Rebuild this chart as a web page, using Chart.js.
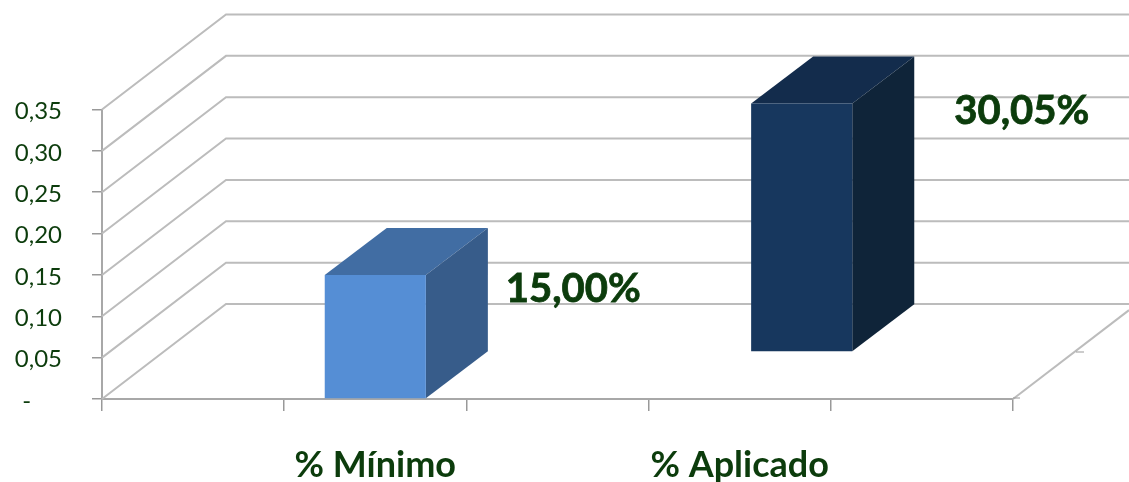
<!DOCTYPE html>
<html>
<head>
<meta charset="utf-8">
<style>html,body{margin:0;padding:0;background:#fff;overflow:hidden}#w{width:1129px;height:482px;position:relative}</style>
<script src="https://cdn.jsdelivr.net/npm/chart.js@4"></script>
</head>
<body>
<div id="w"><canvas id="c" width="1129" height="482"></canvas></div>
<script>
const categories = ['', '% Mínimo', '', '% Aplicado', ''];
const minimoValues = [null, 0.15, null, null, null];
const aplicadoValues = [null, null, null, 0.3005, null];
const yMax = 0.35;
const yStep = 0.05;

const TEXT = '#0c3c0c';
const GRID = '#bcbcbc';
const AXIS = '#a8a8a8';
const FONT = 'Lato, Carlito, "Open Sans", sans-serif';
const WALL = {dx: 124, dy: -95};
const DEPTH = {dx: 62, dy: -47};
const styles = [
  {row: 0, top: '#416da3', side: '#375c8a', label: {dx: 198, dy: 14}},
  {row: 1, top: '#132c4c', side: '#0f2439', label: {dx: 220, dy: 8}}
];

const threeD = {
  id: 'threeD',
  beforeDatasetsDraw(chart) {
    const {ctx, chartArea: a, scales: {y}} = chart;
    ctx.save();
    ctx.strokeStyle = GRID;
    ctx.lineWidth = 2;
    y.ticks.forEach(t => {
      const py = y.getPixelForValue(t.value);
      ctx.beginPath();
      ctx.moveTo(a.left, py);
      ctx.lineTo(a.left + WALL.dx, py + WALL.dy);
      ctx.lineTo(chart.width, py + WALL.dy);
      ctx.stroke();
    });
    const base = y.getPixelForValue(0);
    ctx.beginPath();
    ctx.moveTo(a.right, base);
    ctx.lineTo(chart.width, base + WALL.dy * (chart.width - a.right) / WALL.dx);
    ctx.stroke();
    ctx.strokeStyle = '#999';
    ctx.lineWidth = 1;
    ctx.beginPath();
    ctx.moveTo(a.right, base - 1); ctx.lineTo(a.right + 7, base - 1);
    ctx.moveTo(a.right + 63, base - 47); ctx.lineTo(a.right + 71, base - 47);
    ctx.stroke();
    ctx.restore();
  },
  beforeDatasetDraw(chart, args) {
    const {ctx} = chart;
    const st = styles[args.index];
    const values = chart.data.datasets[args.index].data;
    ctx.save();
    ctx.translate(st.row * DEPTH.dx, st.row * DEPTH.dy);
    args.meta.data.forEach((el, j) => {
      if (values[j] == null) return;
      const l = el.x - el.width / 2, r = el.x + el.width / 2;
      ctx.fillStyle = st.top;
      ctx.beginPath();
      ctx.moveTo(l, el.y);
      ctx.lineTo(l + DEPTH.dx, el.y + DEPTH.dy);
      ctx.lineTo(r + DEPTH.dx, el.y + DEPTH.dy);
      ctx.lineTo(r, el.y);
      ctx.closePath();
      ctx.fill();
      ctx.fillStyle = st.side;
      ctx.beginPath();
      ctx.moveTo(r, el.y);
      ctx.lineTo(r + DEPTH.dx, el.y + DEPTH.dy);
      ctx.lineTo(r + DEPTH.dx, el.base + DEPTH.dy);
      ctx.lineTo(r, el.base);
      ctx.closePath();
      ctx.fill();
    });
  },
  afterDatasetDraw(chart) {
    chart.ctx.restore();
  },
  afterDatasetsDraw(chart) {
    const {ctx, data} = chart;
    ctx.save();
    ctx.fillStyle = TEXT;
    ctx.strokeStyle = TEXT;
    ctx.lineWidth = 0.8;
    ctx.font = 'bold 40px ' + FONT;
    ctx.textAlign = 'center';
    ctx.textBaseline = 'middle';
    data.datasets.forEach((ds, i) => {
      const st = styles[i];
      chart.getDatasetMeta(i).data.forEach((el, j) => {
        const v = ds.data[j];
        if (v == null) return;
        const txt = (v * 100).toFixed(2).replace('.', ',') + '%';
        const tx = el.x + st.row * DEPTH.dx + st.label.dx;
        const ty = el.y + st.row * DEPTH.dy + st.label.dy;
        ctx.fillText(txt, tx, ty);
        ctx.strokeText(txt, tx, ty);
      });
    });
    ctx.restore();
  }
};

new Chart(document.getElementById('c'), {
  type: 'bar',
  plugins: [threeD],
  data: {
    labels: categories,
    datasets: [
      {label: '% Mínimo', data: minimoValues, backgroundColor: '#558ed5', clip: false},
      {label: '% Aplicado', data: aplicadoValues, backgroundColor: '#17375e', clip: false}
    ]
  },
  options: {
    responsive: false,
    animation: false,
    grouped: false,
    barPercentage: 0.555,
    categoryPercentage: 1,
    layout: {padding: {top: 109.5, right: 116, left: 0, bottom: 0}},
    plugins: {legend: {display: false}, tooltip: {enabled: false}, title: {display: false}},
    scales: {
      x: {
        afterFit(s) { s.height = 83; },
        grid: {drawOnChartArea: false, tickLength: 12, color: '#999', lineWidth: 1.5},
        border: {color: AXIS, width: 2},
        ticks: {
          autoSkip: false, maxRotation: 0, minRotation: 0, padding: 33, color: TEXT,
          font: {family: FONT, size: 36, weight: 'bold'}
        }
      },
      y: {
        min: 0, max: yMax,
        afterFit(s) { s.width = 102; },
        grid: {drawOnChartArea: false, tickLength: 10, color: '#999', lineWidth: 1.5},
        border: {color: AXIS, width: 2},
        ticks: {
          stepSize: yStep, padding: 30, color: TEXT, labelOffset: 2,
          font: {family: FONT, size: 24},
          callback: v => Math.abs(v) < 1e-9 ? '-     ' : v.toFixed(2).replace('.', ',')
        }
      }
    }
  }
});
</script>
</body>
</html>
